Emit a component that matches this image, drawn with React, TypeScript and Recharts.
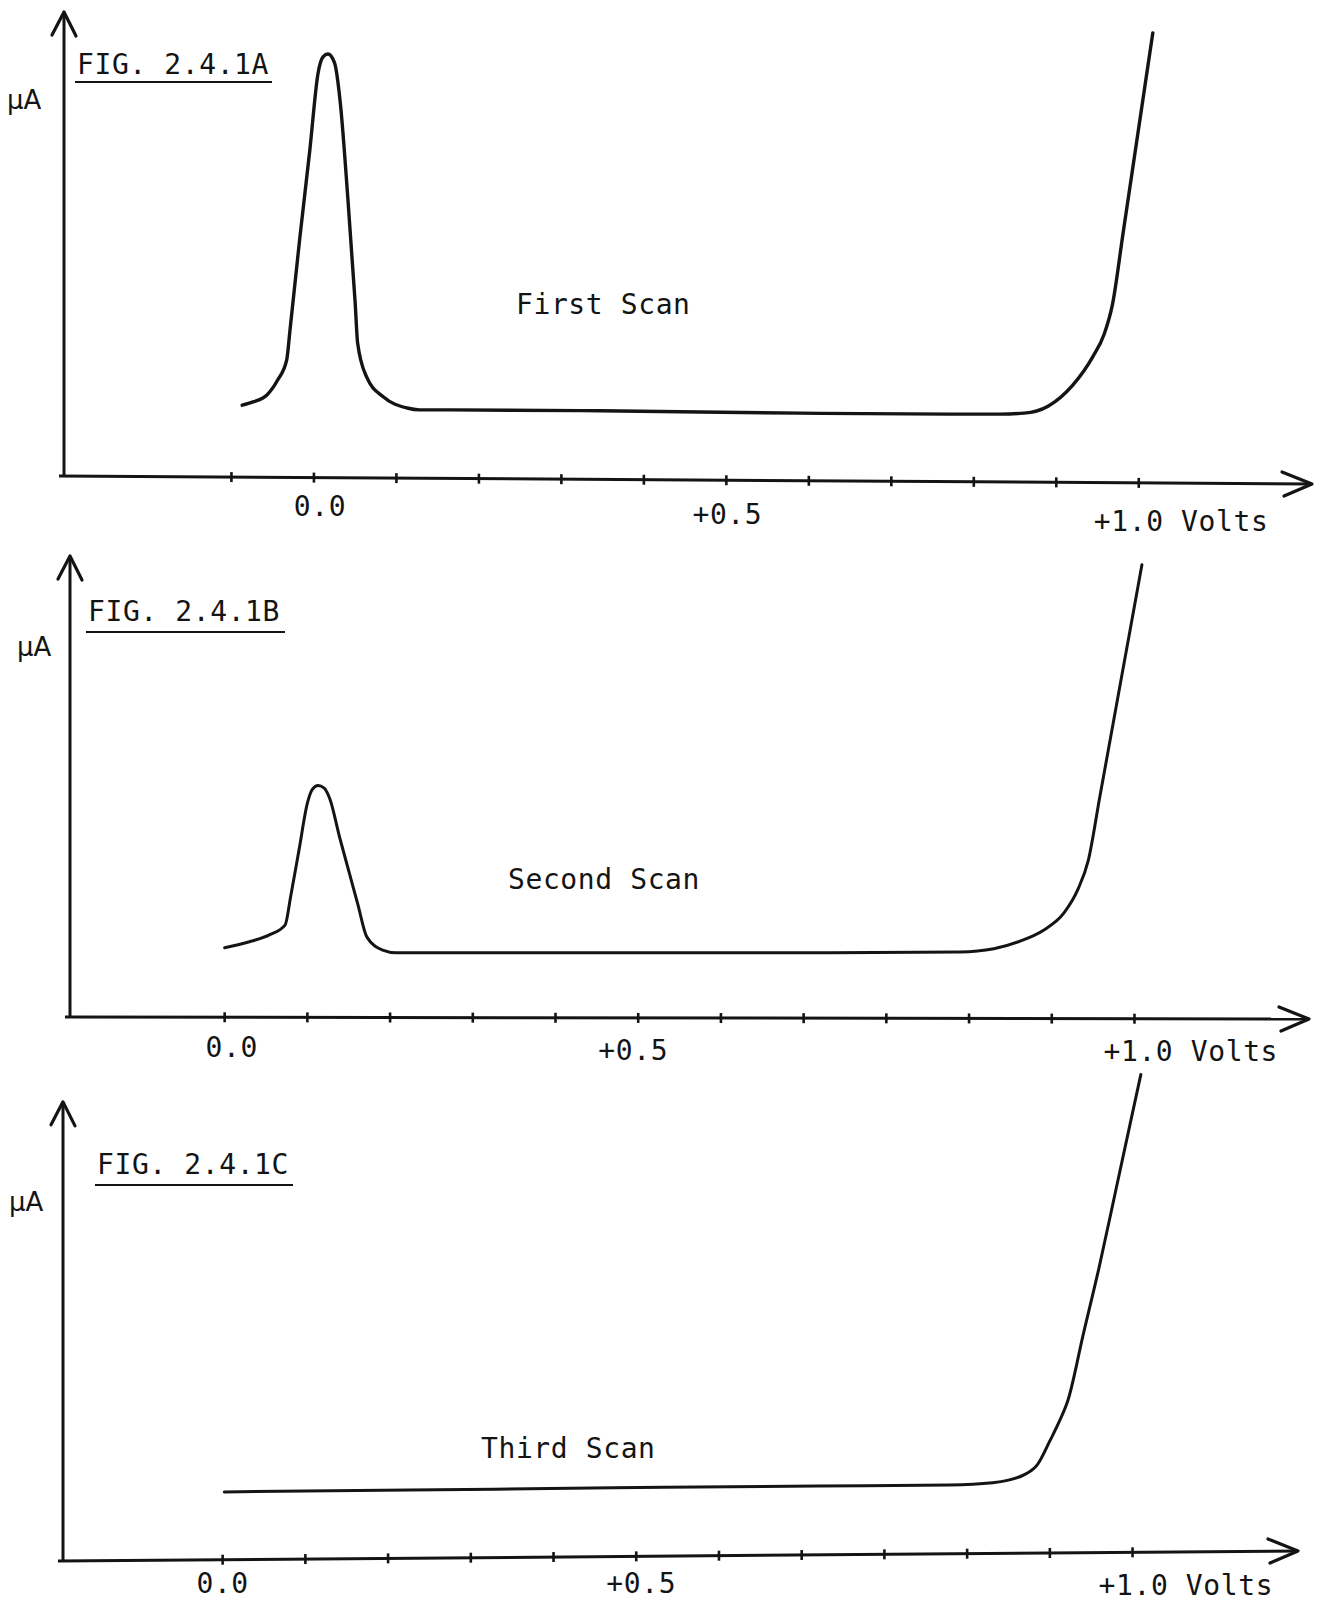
import React from 'react';
import { LineChart, Line, XAxis, YAxis, ReferenceLine } from 'recharts';

// ---------- DATA ----------
// Panel A – First Scan (potential in V, current in % of the y-axis height)
const scanAVolts = [-0.087, -0.074, -0.057, -0.044, -0.033, -0.029, -0.017, -0.005, 0.005, 0.011, 0.017, 0.025, 0.032, 0.041, 0.05, 0.053, 0.064, 0.084, 0.113, 0.128, 0.165, 0.347, 0.589, 0.771, 0.832, 0.861, 0.89, 0.92, 0.944, 0.958, 0.968, 0.981, 0.998, 1.01, 1.017];
const scanACurrent = [15.8, 16.5, 18.0, 21.2, 25.5, 31.9, 51.8, 70.4, 86.9, 90.4, 91.0, 89.1, 80.5, 60.4, 37.7, 29.1, 21.8, 17.6, 15.2, 14.8, 14.8, 14.6, 14.1, 13.9, 13.9, 14.1, 15.6, 20.1, 26.1, 31.0, 37.3, 52.7, 72.9, 87.2, 95.5];

// Panel B – Second Scan
const scanBVolts = [0.0, 0.03, 0.054, 0.073, 0.08, 0.09, 0.1, 0.106, 0.113, 0.12, 0.127, 0.139, 0.151, 0.161, 0.172, 0.191, 0.208, 0.45, 0.7, 0.889, 0.93, 0.961, 0.99, 1.015, 1.032, 1.044, 1.058, 1.079, 1.094, 1.109];
const scanBCurrent = [15.2, 16.5, 18.0, 20.1, 26.5, 36.5, 46.5, 49.5, 50.3, 49.8, 47.5, 39.1, 31.2, 24.6, 17.5, 14.7, 14.1, 14.1, 14.1, 14.3, 15.0, 16.6, 19.0, 22.8, 28.0, 34.0, 47.8, 68.5, 83.3, 98.1];

// Panel C – Third Scan
const scanCVolts = [0.002, 0.225, 0.472, 0.719, 0.879, 0.931, 0.95, 0.968, 0.985, 1.0, 1.012, 1.022, 1.04, 1.06, 1.08, 1.097, 1.11];
const scanCCurrent = [14.3, 14.7, 15.2, 15.6, 15.8, 16.3, 16.9, 18.0, 20.3, 25.5, 30.0, 34.5, 48.6, 64.0, 80.8, 95.1, 106.0];

// Axis ticks and labels
const ticksA = [-0.1, 0.0, 0.1, 0.2, 0.3, 0.4, 0.5, 0.6, 0.7, 0.8, 0.9, 1.0];
const tickLabelsA = ['', '0.0', '', '', '', '', '+0.5', '', '', '', '', '+1.0 Volts'];
const ticksBC = [0.0, 0.1, 0.2, 0.3, 0.4, 0.5, 0.6, 0.7, 0.8, 0.9, 1.0, 1.1];
const tickLabelsBC = ['0.0', '', '', '', '', '+0.5', '', '', '', '', '', '+1.0 Volts'];

const figTitles = ['FIG. 2.4.1A', 'FIG. 2.4.1B', 'FIG. 2.4.1C'];
const scanNames = ['First Scan', 'Second Scan', 'Third Scan'];
const yAxisLabel = 'μA';

// ---------- LAYOUT / STYLE ----------
const INK = '#141414';
const MONO = "'DejaVu Sans Mono', monospace";

const panels = [
  {
    volts: scanAVolts, current: scanACurrent, ticks: ticksA, labels: tickLabelsA,
    title: figTitles[0], name: scanNames[0],
    top: 0, height: 545, margin: { top: 12, right: 10, left: 64, bottom: 0 }, xAxisHeight: 66,
    xDomain: [-0.303, 1.21], yMax: 100, lineWidth: 3.4, tilt: [-3, 5],
    lab: { zero: [6, 37], half: [1, 45], end: [-45, 52] },
    ann: { mu: [7, 109], fig: [77, 74], ul: [75, 272, 82], scan: [516, 314] },
  },
  {
    volts: scanBVolts, current: scanBCurrent, ticks: ticksBC, labels: tickLabelsBC,
    title: figTitles[1], name: scanNames[1],
    top: 545, height: 532, margin: { top: 11, right: 13, left: 70, bottom: 0 }, xAxisHeight: 59,
    xDomain: [-0.187, 1.311], yMax: 100, lineWidth: 3, tilt: [-1, 1],
    lab: { zero: [7, 39], half: [-5, 42], end: [-31, 43] },
    ann: { mu: [17, 656], fig: [88, 621], ul: [86, 285, 632], scan: [508, 889] },
  },
  {
    volts: scanCVolts, current: scanCCurrent, ticks: ticksBC, labels: tickLabelsBC,
    title: figTitles[2], name: scanNames[2],
    top: 1065, height: 538, margin: { top: 5, right: 24, left: 63, bottom: 0 }, xAxisHeight: 46,
    xDomain: [-0.193, 1.3], yMax: 107, lineWidth: 3, tilt: [4, -6],
    lab: { zero: [0, 36], half: [5, 36], end: [-34, 38] },
    ann: { mu: [9, 1211], fig: [97, 1174], ul: [95, 293, 1185], scan: [481, 1458] },
  },
];

const textStyle = { fontFamily: MONO, fontSize: 28, letterSpacing: 0.6, fill: INK } as any;

const tiltAt = (P: any, x: number) => {
  const l = P.margin.left;
  const r = 1322 - P.margin.right;
  return P.tilt[0] + ((P.tilt[1] - P.tilt[0]) * (x - l)) / (r - l);
};

const makeXArrow = (P: any) => (p: any) => {
  const { x1, y1, x2 } = p;
  const ya = y1 + tiltAt(P, x1 - 5);
  const yb = y1 + tiltAt(P, x2);
  return (
    <g>
      <line x1={x1 - 5} y1={ya} x2={x2} y2={yb} stroke={INK} strokeWidth={3} />
      <polyline points={`${x2 - 30},${yb - 12} ${x2},${yb} ${x2 - 28},${yb + 12}`} fill="none" stroke={INK} strokeWidth={3.2} strokeLinecap="round" strokeLinejoin="round" />
    </g>
  );
};

const makeYArrow = (P: any) => (p: any) => {
  const { x1, y1, x2, y2 } = p;
  const off = P.top;
  const a = P.ann;
  const yb = y1 + tiltAt(P, x1);
  return (
    <g>
      <line x1={x1} y1={yb} x2={x2} y2={y2} stroke={INK} strokeWidth={3} />
      <polyline points={`${x2 - 12},${y2 + 23} ${x2},${y2} ${x2 + 12},${y2 + 24}`} fill="none" stroke={INK} strokeWidth={3.2} strokeLinecap="round" strokeLinejoin="round" />
      <text x={a.mu[0]} y={a.mu[1] - off} style={{ fontFamily: "'DejaVu Sans', sans-serif", fontSize: 26, fill: INK } as any}>{yAxisLabel}</text>
      <text x={a.fig[0]} y={a.fig[1] - off} style={textStyle}>{P.title}</text>
      <line x1={a.ul[0]} y1={a.ul[2] - off} x2={a.ul[1]} y2={a.ul[2] - off} stroke={INK} strokeWidth={2.2} />
      <text x={a.scan[0]} y={a.scan[1] - off} style={textStyle}>{P.name}</text>
    </g>
  );
};

const makeTick = (P: any) => (props: any) => {
  const { x, y, payload } = props;
  const idx = P.ticks.findIndex((t: number) => Math.abs(t - payload.value) < 1e-6);
  const label = idx >= 0 ? P.labels[idx] : '';
  const ty = y + tiltAt(P, x);
  let txt = null;
  if (label) {
    const isEnd = label.indexOf('Volts') >= 0;
    const isZero = label === '0.0';
    const o = isEnd ? P.lab.end : isZero ? P.lab.zero : P.lab.half;
    txt = (
      <text x={x + o[0]} y={y + o[1]} textAnchor={isEnd ? 'start' : 'middle'} style={textStyle}>
        {label}
      </text>
    );
  }
  return (
    <g>
      <line x1={x} y1={ty - 5} x2={x} y2={ty + 5} stroke={INK} strokeWidth={2.6} />
      {txt}
    </g>
  );
};

const Panel = ({ P }: { P: any }) => {
  const rows = P.volts.map((v: number, i: number) => ({ v, i: P.current[i] }));
  const [xmin, xmax] = P.xDomain;
  return (
    <div style={{ position: 'absolute', left: 0, top: P.top, width: 1322, height: P.height }}>
      <LineChart width={1322} height={P.height} data={rows} margin={P.margin}>
        <XAxis
          type="number"
          dataKey="v"
          domain={P.xDomain}
          allowDataOverflow
          ticks={P.ticks}
          interval={0}
          axisLine={false}
          tickLine={false}
          tickSize={0}
          tickMargin={0}
          height={P.xAxisHeight}
          tick={makeTick(P)}
        />
        <YAxis type="number" domain={[0, P.yMax]} allowDataOverflow hide />
        <ReferenceLine segment={[{ x: xmin, y: 0 }, { x: xmax, y: 0 }]} ifOverflow="visible" shape={makeXArrow(P)} />
        <ReferenceLine segment={[{ x: xmin, y: 0 }, { x: xmin, y: 100 }]} ifOverflow="visible" shape={makeYArrow(P)} />
        <Line
          type="monotone"
          dataKey="i"
          stroke={INK}
          strokeWidth={P.lineWidth}
          dot={false}
          activeDot={false}
          isAnimationActive={false}
          strokeLinejoin="round"
          strokeLinecap="round"
        />
      </LineChart>
    </div>
  );
};

export default function App() {
  return (
    <div style={{ position: 'absolute', left: 0, top: 0, width: 1322, height: 1603, background: '#fff', overflow: 'hidden' }}>
      {panels.map((P, k) => (
        <Panel key={k} P={P} />
      ))}
    </div>
  );
}
